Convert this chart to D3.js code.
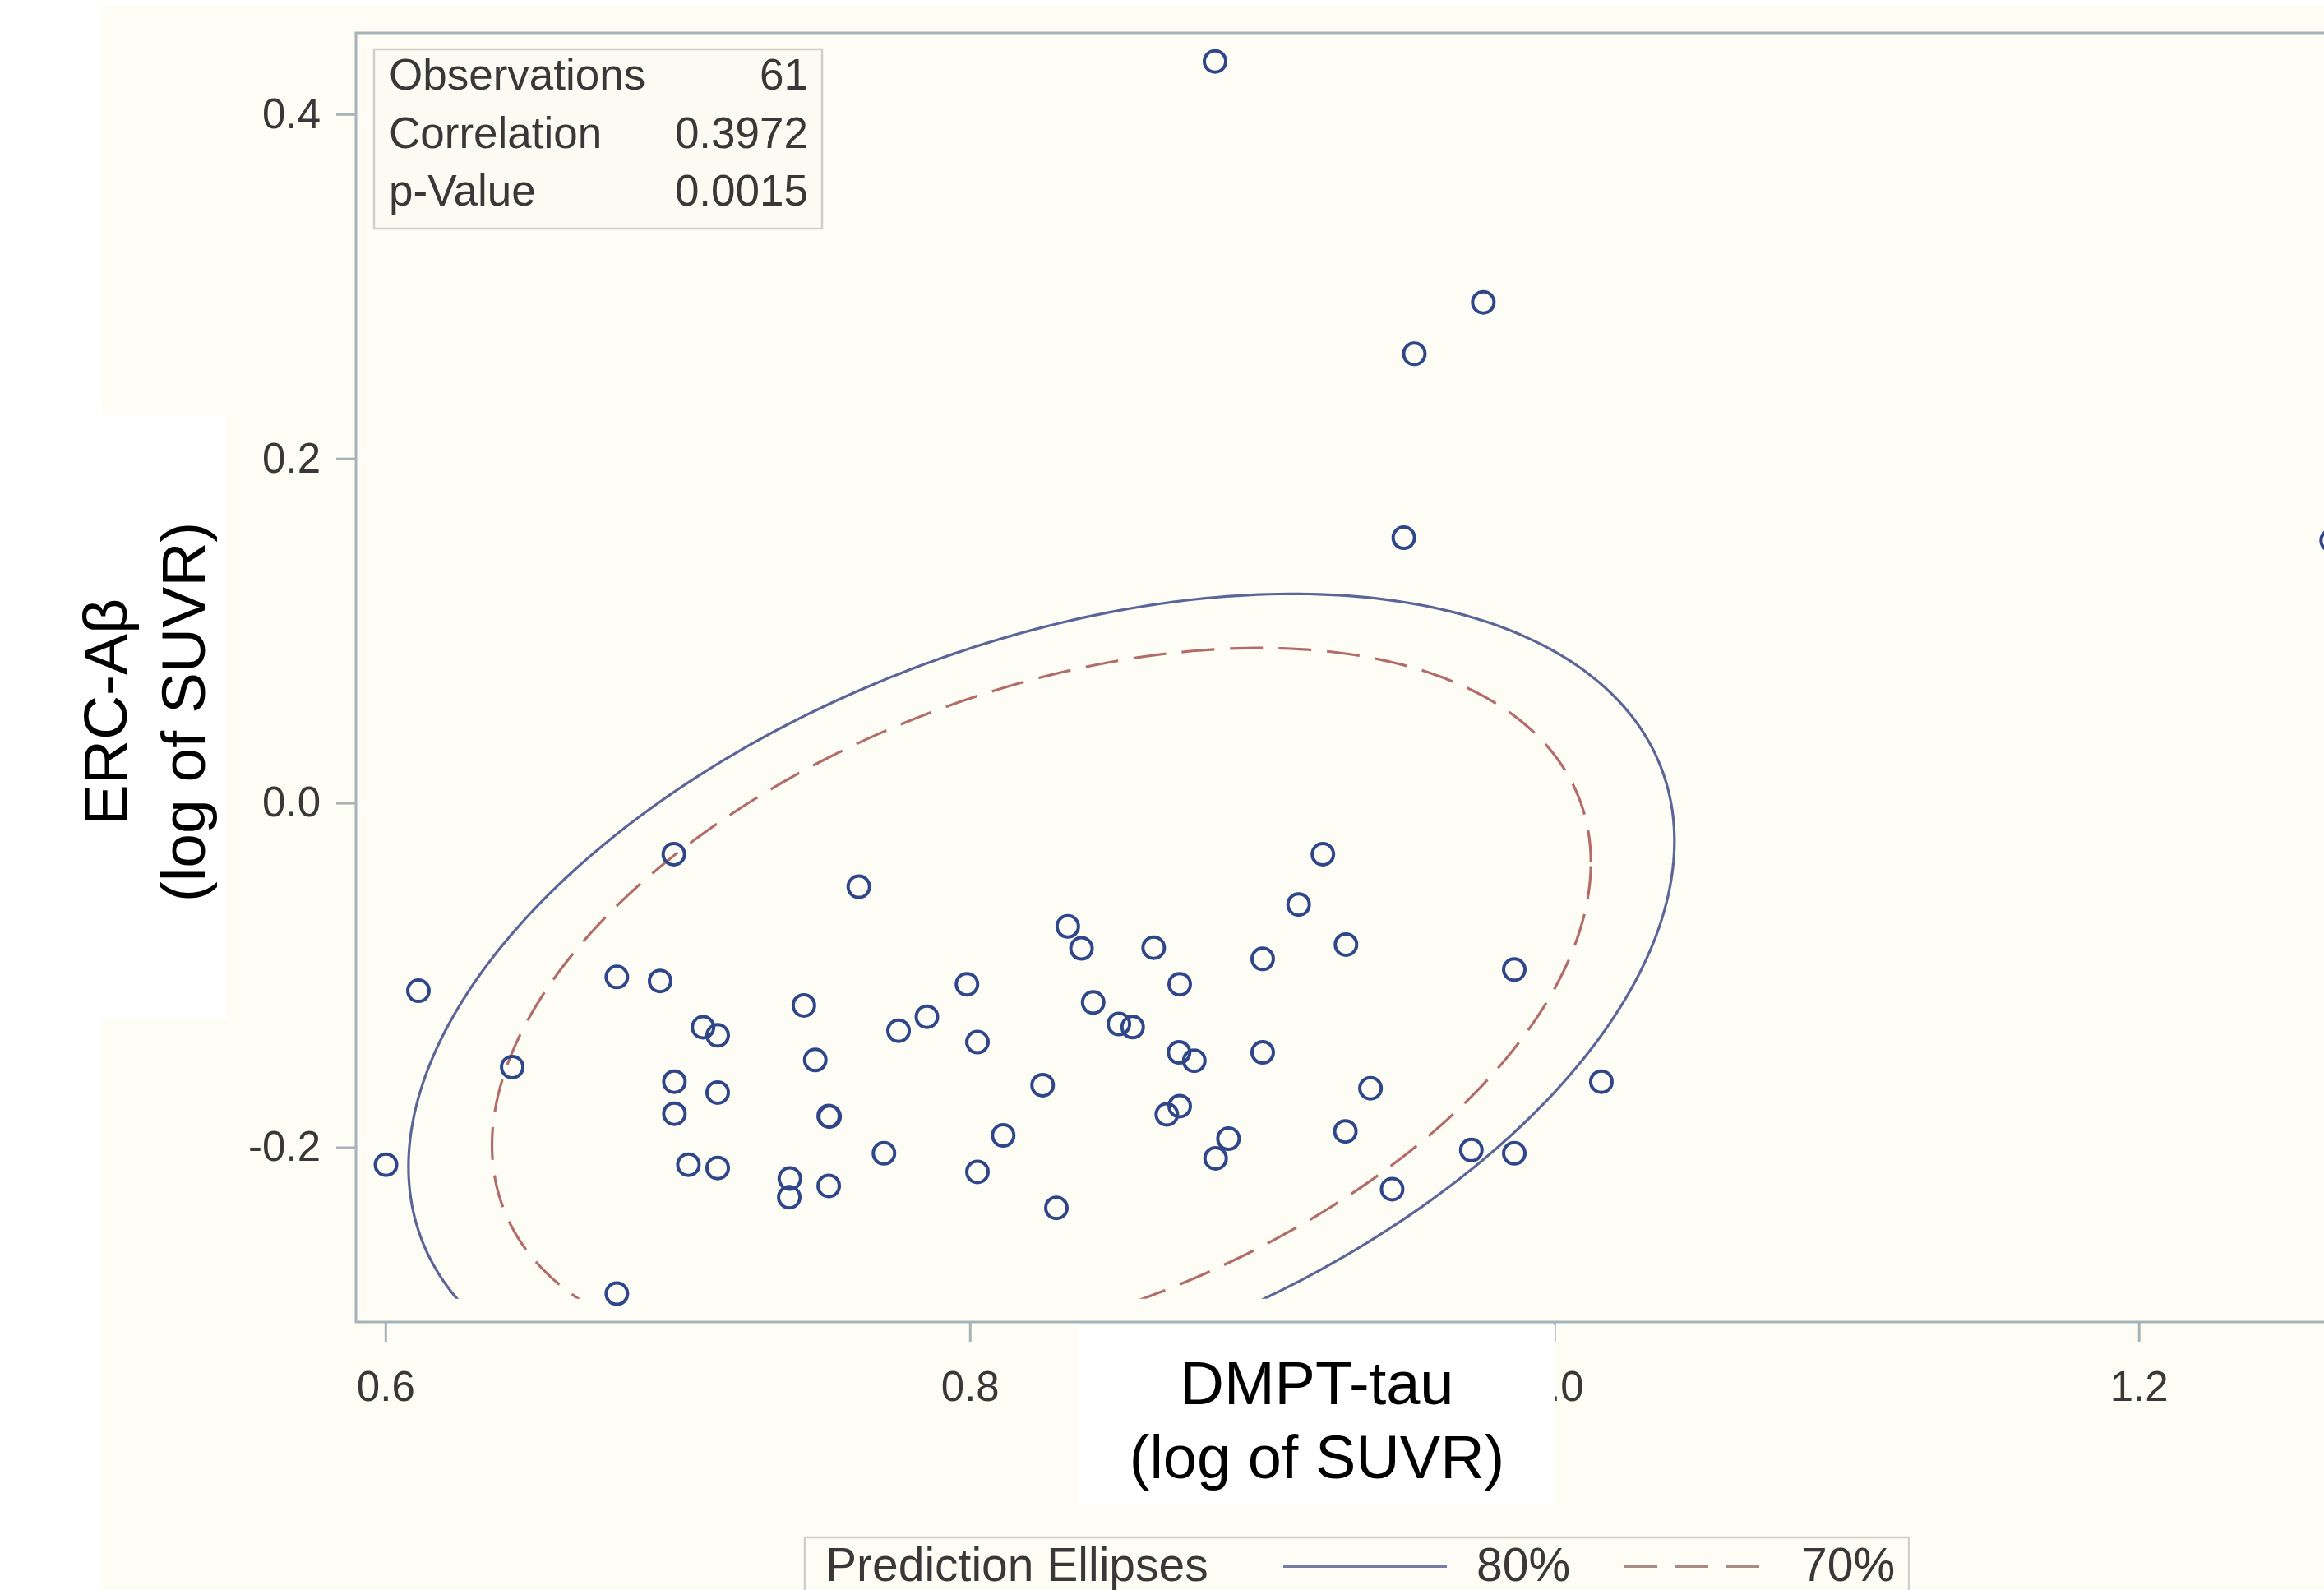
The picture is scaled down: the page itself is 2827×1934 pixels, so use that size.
<!DOCTYPE html>
<html><head><meta charset="utf-8">
<script src="https://cdn.jsdelivr.net/npm/d3@7"></script>
<style>html,body{margin:0;padding:0;background:#fff;} svg{display:block;}</style>
</head><body>
<svg id="chart" width="2827" height="1934"></svg>
<script>
// ---------------- data ----------------
const dmptTau = [0.8839,0.9757,0.9521,0.9485,1.2660,0.6987,0.9208,0.7620,0.9125,0.8335,
  0.9287,0.8382,0.8629,0.9002,0.9863,0.6792,0.6940,0.6113,0.7990,0.8718,
  0.7432,0.8422,0.7853,0.7756,0.7087,0.7137,0.8510,0.8557,0.8026,0.6434,
  0.7471,0.8716,0.8768,0.9002,0.6989,0.7137,0.8249,0.9371,1.0161,0.6989,
  0.7517,0.7520,0.8718,0.8674,0.8114,0.9285,0.8885,0.8841,0.7706,0.9716,
  0.9863,0.6002,0.7037,0.7137,0.8026,0.7384,0.7382,0.7517,0.9445,0.8296,0.6792];
const ercAbeta = [0.4306,0.2907,0.2608,0.1540,0.1524,-0.0298,-0.0298,-0.0487,-0.0590,-0.0717,
  -0.0823,-0.0845,-0.0841,-0.0906,-0.0968,-0.1011,-0.1034,-0.1091,-0.1053,-0.1053,
  -0.1176,-0.1159,-0.1242,-0.1323,-0.1303,-0.1350,-0.1284,-0.1302,-0.1389,-0.1534,
  -0.1493,-0.1449,-0.1497,-0.1449,-0.1619,-0.1682,-0.1639,-0.1657,-0.1619,-0.1805,
  -0.1818,-0.1822,-0.1761,-0.1809,-0.1931,-0.1908,-0.1950,-0.2064,-0.2035,-0.2016,
  -0.2035,-0.2101,-0.2101,-0.2120,-0.2143,-0.2182,-0.2290,-0.2224,-0.2243,-0.2352,-0.2850];
const xTicks = [0.6, 0.8, 1.0, 1.2];
const yTicks = [-0.2, 0.0, 0.2, 0.4];
const statLabels = ["Observations", "Correlation", "p-Value"];
const statValues = ["61", "0.3972", "0.0015"];
// prediction ellipses
const ellipseCenter = [0.8245, -0.1167];
const ellipseHalfExtent = [0.2166, 0.2381];   // 80% ellipse half extents (x, y)
const ellipseCorr = 0.3972;
const ellipseLevels = ["80%", "70%"];
const ellipseScales = [1.0, 0.868];
const ellipseClipYMin = -0.288;
const legendTitle = "Prediction Ellipses";
const xTitle = ["DMPT-tau", "(log of SUVR)"];
const yTitle = ["ERC-A\u03B2", "(log of SUVR)"];

// ---------------- layout ----------------
const W = 2827, H = 1934;
const frame = {left: 433, top: 40, right: 2900, bottom: 1608};
const CREAM = "#fdfdf5";
const FONT = "'Liberation Sans', Arial, sans-serif";
const solidCol = "#5b6598", dashCol = "#b26c69", markCol = "#30468a";

const svg = d3.select("#chart");
const x = d3.scaleLinear().domain([0.6, 1.2]).range([468.8, 2601.7]);
const y = d3.scaleLinear().domain([-0.2, 0.4]).range([1395.5, 138.8]);

// backgrounds
svg.append("rect").attr("width", W).attr("height", H).attr("fill", "#ffffff");
svg.append("rect").attr("x", 124).attr("y", 7).attr("width", W - 124).attr("height", H - 7).attr("fill", CREAM);
svg.append("rect").attr("x", 0).attr("y", 505).attr("width", 275).attr("height", 735).attr("fill", "#ffffff");

// clip
const defs = svg.append("defs");
defs.append("clipPath").attr("id", "plotclip").append("rect")
  .attr("x", frame.left).attr("y", frame.top)
  .attr("width", frame.right - frame.left).attr("height", y(ellipseClipYMin) - frame.top);

// frame
svg.append("rect").attr("x", frame.left).attr("y", frame.top)
  .attr("width", frame.right - frame.left).attr("height", frame.bottom - frame.top)
  .attr("fill", CREAM).attr("stroke", "#a7b2b9").attr("stroke-width", 3);

// stats inset
const sb = svg.append("g");
sb.append("rect").attr("x", 455).attr("y", 60).attr("width", 545).attr("height", 218)
  .attr("fill", "#fbfbf3").attr("stroke", "#cfd0cc").attr("stroke-width", 2.5);
statLabels.forEach((s, i) => {
  sb.append("text").attr("x", 473).attr("y", 109 + i * 70.5).text(s)
    .attr("font-family", FONT).attr("font-size", 53).attr("fill", "#383838");
  sb.append("text").attr("x", 983).attr("y", 109 + i * 70.5).text(statValues[i])
    .attr("text-anchor", "end").attr("font-family", FONT).attr("font-size", 53).attr("fill", "#383838");
});

// ellipses
const rho = ellipseCorr, rr = Math.sqrt(1 - rho * rho);
const angles = d3.range(0, 361).map(d => d * Math.PI / 180);
const eline = d3.line().x(d => x(d[0])).y(d => y(d[1])).curve(d3.curveLinearClosed);
const eg = svg.append("g").attr("clip-path", "url(#plotclip)");
ellipseLevels.forEach((lv, i) => {
  const k = ellipseScales[i];
  const pts = angles.map(t => [
    ellipseCenter[0] + k * ellipseHalfExtent[0] * Math.cos(t),
    ellipseCenter[1] + k * ellipseHalfExtent[1] * (rho * Math.cos(t) + rr * Math.sin(t))
  ]);
  eg.append("path").attr("d", eline(pts)).attr("fill", "none")
    .attr("stroke", i === 0 ? solidCol : dashCol).attr("stroke-width", 3.2)
    .attr("stroke-dasharray", i === 0 ? null : "40,19");
});

// points
svg.append("g").selectAll("circle").data(dmptTau).join("circle")
  .attr("cx", d => x(d)).attr("cy", (d, i) => y(ercAbeta[i])).attr("r", 13)
  .attr("fill", "none").attr("stroke", markCol).attr("stroke-width", 4);

// axes
const yAxis = svg.append("g").attr("transform", `translate(${frame.left},0)`)
  .call(d3.axisLeft(y).tickValues(yTicks).tickFormat(d => d.toFixed(1)).tickSize(24).tickPadding(19));
const xAxis = svg.append("g").attr("transform", `translate(0,${frame.bottom})`)
  .call(d3.axisBottom(x).tickValues(xTicks).tickFormat(d => d.toFixed(1)).tickSize(24).tickPadding(36));
[yAxis, xAxis].forEach(a => {
  a.select(".domain").remove();
  a.selectAll(".tick line").attr("stroke", "#a7b2b9").attr("stroke-width", 3);
  a.selectAll(".tick text").attr("font-family", FONT).attr("font-size", 51).attr("fill", "#383838");
});

// axis titles (on white patches)
svg.append("rect").attr("x", 1312).attr("y", 1612).attr("width", 579).attr("height", 218).attr("fill", "#ffffff");
xTitle.forEach((t, i) => {
  svg.append("text").attr("x", 1602).attr("y", 1708 + i * 90).attr("text-anchor", "middle")
    .attr("font-family", FONT).attr("font-size", 74).attr("fill", "#000").text(t);
});
yTitle.forEach((t, i) => {
  svg.append("text").attr("transform", `translate(${154 + i * 95},866) rotate(-90)`)
    .attr("text-anchor", "middle").attr("font-family", FONT).attr("font-size", 75)
    .attr("fill", "#000").text(t);
});

// legend
const lg = svg.append("g");
lg.append("rect").attr("x", 979).attr("y", 1870).attr("width", 1343).attr("height", 120)
  .attr("fill", CREAM).attr("stroke", "#cfd0cc").attr("stroke-width", 2.5);
lg.append("text").attr("x", 1004).attr("y", 1923).text(legendTitle)
  .attr("font-family", FONT).attr("font-size", 57).attr("fill", "#383838");
const legX = [[1561, 1760, 1796], [1976, 2155, 2191]];
ellipseLevels.forEach((lv, i) => {
  lg.append("line").attr("x1", legX[i][0]).attr("x2", legX[i][1]).attr("y1", 1905).attr("y2", 1905)
    .attr("stroke", i === 0 ? "#767ca6" : "#a98a82").attr("stroke-width", 4)
    .attr("stroke-dasharray", i === 0 ? null : "40,22");
  lg.append("text").attr("x", legX[i][2]).attr("y", 1923).text(lv)
    .attr("font-family", FONT).attr("font-size", 57).attr("fill", "#383838");
});
</script>
</body></html>
